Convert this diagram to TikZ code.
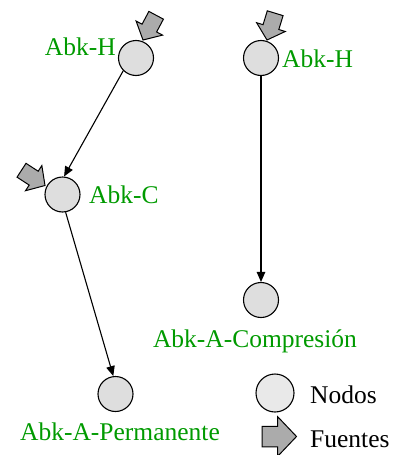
\documentclass[tikz,border=0pt]{standalone}
\usepackage{fontspec}
\setmainfont{Liberation Serif}
\usetikzlibrary{arrows.meta}
\definecolor{lblgreen}{HTML}{009A00}
\definecolor{nodefill}{HTML}{DEDEDE}
\definecolor{legfill}{HTML}{E9E9E9}
\definecolor{srcfill}{HTML}{ABABAB}
\tikzset{
  nodecirc/.style={circle, draw=black, line width=1.1pt, fill=nodefill, minimum size=35pt, inner sep=0pt},
  lbl/.style={text=lblgreen, font=\fontsize{25.5}{28}\selectfont, inner sep=0pt},
  leglbl/.style={text=black, font=\fontsize{25.5}{28}\selectfont, inner sep=0pt},
  conn/.style={line width=1.1pt, -{Triangle[length=10pt,width=8.5pt]}},
  srcarrow/.style={draw=black, line width=1pt, fill=srcfill, line join=miter}
}
% block arrow: tip at origin pointing +x; #1 total length, #2 head length, #3 head width, #4 shaft width
\newcommand{\blockarrowshape}[4]{(0,0) -- (-#2,#3/2) -- (-#2,#4/2) -- (-#1,#4/2) -- (-#1,-#4/2) -- (-#2,-#4/2) -- (-#2,-#3/2) -- cycle}
\begin{document}
\begin{tikzpicture}[x=1pt,y=-1pt]
\useasboundingbox (0,0) rectangle (393,455);
% nodes
\node[nodecirc] (h1) at (136,58) {};
\node[nodecirc] (c) at (62.5,194.5) {};
\node[nodecirc] (h2) at (261,58) {};
\node[nodecirc] (comp) at (261,300) {};
\node[nodecirc] (perm) at (115.5,394) {};
\node[nodecirc, fill=legfill, minimum size=38pt] (leg) at (275,393) {};
% labels
\node[lbl, anchor=base east] (lh1) at (116,55) {Abk-H};
\node[lbl, anchor=base west] (lc) at (89,203) {Abk-C};
\node[lbl, anchor=base west] (lh2) at (282,67) {Abk-H};
\node[lbl, anchor=base] (lcomp) at (255,347) {Abk-A-Compresión};
\node[lbl, anchor=base] (lperm) at (120,440) {Abk-A-Permanente};
\node[leglbl, anchor=base west] (lnod) at (310,403) {Nodos};
\node[leglbl, anchor=base west] (lfue) at (310,447) {Fuentes};
% connectors
\draw[conn] (h1.225) -- (c.85);
\draw[conn] (c.280) -- (perm.97);
\draw[conn] (h2.south) -- (comp.north);
% source arrows
\draw[srcarrow, shift={(143,40)}, rotate=242] \blockarrowshape{28}{13.5}{30}{16.5};
\draw[srcarrow, shift={(45,185.5)}, rotate=327] \blockarrowshape{28}{13.5}{30}{16.5};
\draw[srcarrow, shift={(267,40)}, rotate=253] \blockarrowshape{28}{13.5}{30}{16.5};
\draw[srcarrow, shift={(296.5,436.5)}, rotate=0] \blockarrowshape{34.5}{19}{40}{20.5};
\end{tikzpicture}
\end{document}
